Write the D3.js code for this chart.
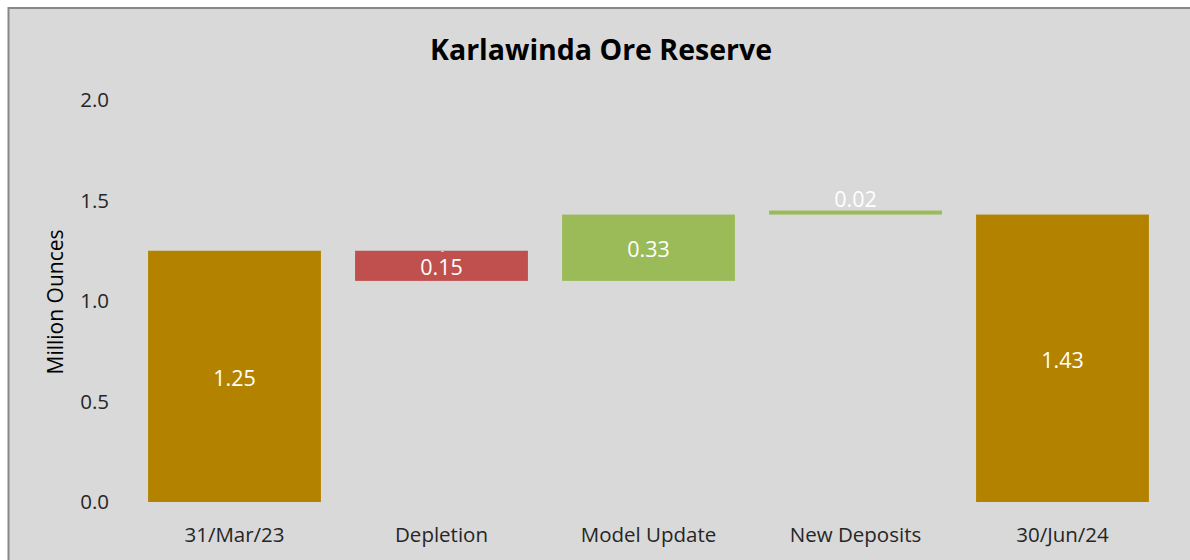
<!DOCTYPE html>
<html>
<head>
<meta charset="utf-8">
<script src="https://cdn.jsdelivr.net/npm/d3@7"></script>
<style>
  html, body { margin: 0; padding: 0; background: #ffffff; }
  svg { display: block; }
  text { font-family: "Open Sans", "Liberation Sans", sans-serif; }
</style>
</head>
<body>
<svg id="chart" width="1190" height="560"></svg>
<script>
const categories = ["31/Mar/23", "Depletion", "Model Update", "New Deposits", "30/Jun/24"];
const changes = [1.25, -0.15, 0.33, 0.02, 1.43];
const kinds = ["total", "decrease", "increase", "increase", "total"];
const labels = ["1.25", "0.15", "0.33", "0.02", "1.43"];
const yTicks = [0, 0.5, 1.0, 1.5, 2.0];

const colors = { total: "#b38300", decrease: "#c0504d", increase: "#9bbb59" };

const svg = d3.select("#chart");
const W = 1190, H = 560;

// chart area background + border
svg.append("rect").attr("x", 8.5).attr("y", 8).attr("width", W).attr("height", H)
  .attr("fill", "#d9d9d9").attr("stroke", "#878787").attr("stroke-width", 2);

// compute waterfall segments
let running = 0;
const segs = categories.map((c, i) => {
  let lo, hi;
  if (kinds[i] === "total") { lo = 0; hi = changes[i]; running = changes[i]; }
  else { const start = running; const end = running + changes[i]; lo = Math.min(start, end); hi = Math.max(start, end); running = end; }
  return { cat: c, lo, hi, kind: kinds[i], label: labels[i] };
});

const x = d3.scaleBand().domain(categories).range([131, 1166]).paddingInner(0.165).paddingOuter(0.0825);
const y = d3.scaleLinear().domain([0, 2]).range([502, 100]);

// title
svg.append("text").attr("x", 601).attr("y", 60).attr("text-anchor", "middle")
  .attr("font-size", 28.5).attr("font-weight", "bold").attr("fill", "#000").text("Karlawinda Ore Reserve");

// y axis
const yAxis = d3.axisLeft(y).tickValues(yTicks).tickFormat(d3.format(".1f")).tickSize(0).tickPadding(0);
const gy = svg.append("g").attr("transform", "translate(109,0)").call(yAxis);
gy.select(".domain").remove();
gy.selectAll("text").attr("font-size", 20.5).attr("fill", "#262626")
  .attr("font-family", "'Open Sans', 'Liberation Sans', sans-serif");

// x axis
const xAxis = d3.axisBottom(x).tickSize(0).tickPadding(0);
const gx = svg.append("g").attr("transform", "translate(0,527)").call(xAxis);
gx.select(".domain").remove();
gx.selectAll("text").attr("font-size", 20.5).attr("fill", "#262626").attr("dy", "0.71em")
  .attr("font-family", "'Open Sans', 'Liberation Sans', sans-serif");

// y axis title
svg.append("text").attr("transform", "translate(63,302) rotate(-90)").attr("text-anchor", "middle")
  .attr("font-size", 21).attr("fill", "#000").text("Million Ounces");

// bars
svg.append("g").selectAll("rect").data(segs).join("rect")
  .attr("x", d => x(d.cat)).attr("width", x.bandwidth())
  .attr("y", d => y(d.hi)).attr("height", d => y(d.lo) - y(d.hi))
  .attr("fill", d => colors[d.kind]);

// labels
svg.append("g").selectAll("text").data(segs).join("text")
  .attr("x", d => x(d.cat) + x.bandwidth() / 2)
  .attr("y", d => {
    const mid = (y(d.lo) + y(d.hi)) / 2;
    return (y(d.lo) - y(d.hi)) < 20 ? y(d.hi) - 4 : mid + 2;
  })
  .attr("dy", d => (y(d.lo) - y(d.hi)) < 20 ? "0" : "0.35em")
  .attr("text-anchor", "middle").attr("font-size", 21.5).attr("fill", "#ffffff")
  .text(d => d.label);

// stray dash mark above Depletion label
const dep = segs[1];
svg.append("text").attr("x", x(dep.cat) + x.bandwidth() / 2 + 1).attr("y", y(dep.hi) + 3)
  .attr("text-anchor", "middle").attr("font-size", 9).attr("fill", "#ffffff").text("-");
</script>
</body>
</html>
